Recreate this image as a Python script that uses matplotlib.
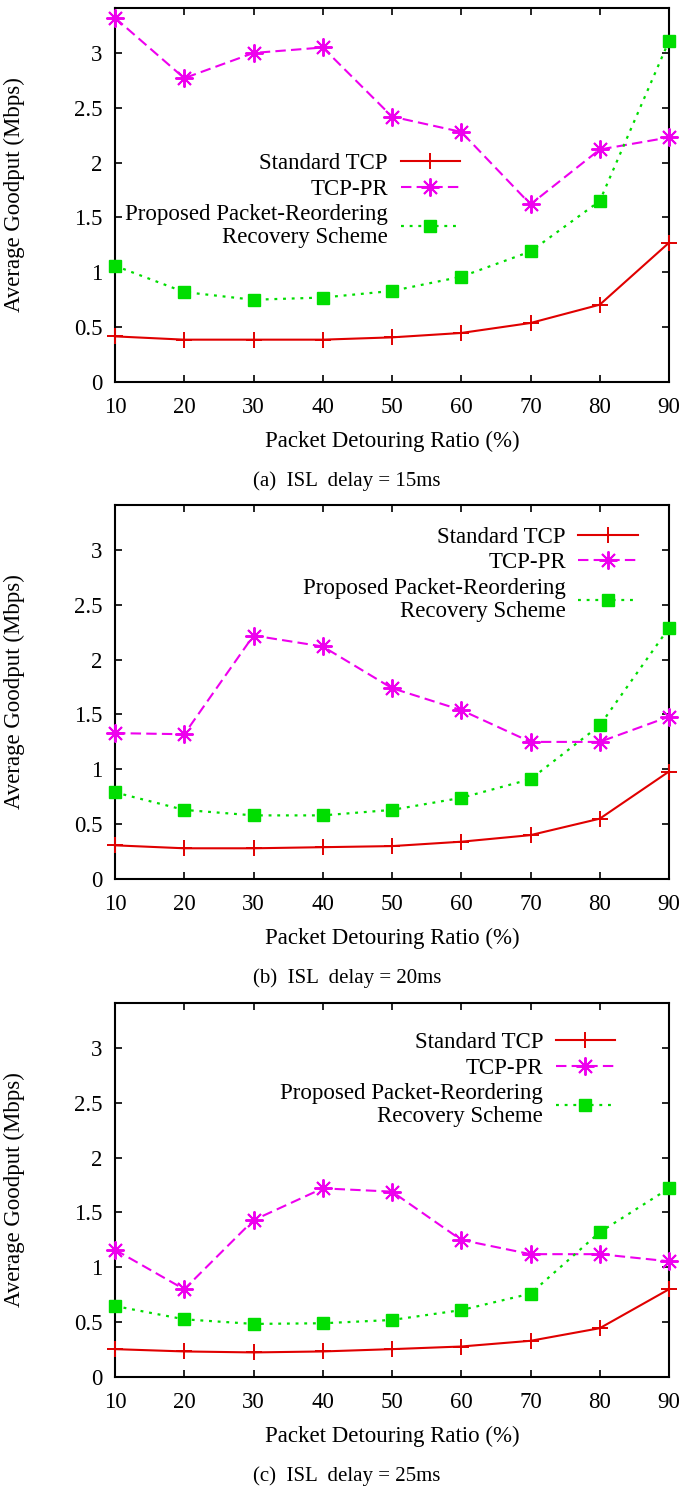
import matplotlib
matplotlib.use("Agg")
import matplotlib.pyplot as plt

plt.rcParams['font.family'] = ['Liberation Serif', 'DejaVu Serif']
plt.rcParams['mathtext.fontset'] = 'stix'

ratios = [10, 20, 30, 40, 50, 60, 70, 80, 90]

std_15 = [0.416, 0.386, 0.386, 0.386, 0.407, 0.447, 0.538, 0.705, 1.27]
pr_15 = [3.32, 2.77, 3.00, 3.05, 2.42, 2.28, 1.62, 2.12, 2.23]
prop_15 = [1.06, 0.82, 0.75, 0.77, 0.83, 0.96, 1.19, 1.65, 3.11]

std_20 = [0.307, 0.28, 0.28, 0.29, 0.30, 0.34, 0.40, 0.55, 0.98]
pr_20 = [1.33, 1.32, 2.22, 2.12, 1.74, 1.54, 1.25, 1.25, 1.48]
prop_20 = [0.79, 0.63, 0.58, 0.58, 0.63, 0.74, 0.91, 1.40, 2.29]

std_25 = [0.254, 0.233, 0.224, 0.233, 0.254, 0.278, 0.33, 0.445, 0.80]
pr_25 = [1.16, 0.80, 1.43, 1.72, 1.69, 1.25, 1.12, 1.12, 1.055]
prop_25 = [0.647, 0.526, 0.484, 0.49, 0.52, 0.61, 0.76, 1.32, 1.72]

labels = ["Standard TCP", "TCP-PR", "Proposed Packet-Reordering\nRecovery Scheme"]
captions = ["(a)  ISL  delay = 15ms", "(b)  ISL  delay = 20ms", "(c)  ISL  delay = 25ms"]
yticks = [0, 0.5, 1, 1.5, 2, 2.5, 3]
ytick_labels = ["0", "0.5", "1", "1.5", "2", "2.5", "3"]

panels = [(std_15, pr_15, prop_15), (std_20, pr_20, prop_20), (std_25, pr_25, prop_25)]

W, H = 691, 1487
fig = plt.figure(figsize=(W / 100, H / 100), dpi=100)

ax_boxes = [(8, 382), (505, 879), (1003, 1377)]
left_px, right_px = 115, 669
legend_anchor = [(0.623, 0.612), (0.944, 0.942), (0.903, 0.922)]
caption_y = [481, 978, 1476]

RED = '#e00000'
MAG = '#ee00ee'
GRN = '#00dd00'
FS = 16.5

asterisk = (8, 2, 0)

for i, (top, bot) in enumerate(ax_boxes):
    ax = fig.add_axes([left_px / W, 1 - bot / H, (right_px - left_px) / W, (bot - top) / H])
    std, pr, prop = panels[i]
    ax.plot(ratios, std, color=RED, lw=1.5, marker='+', ms=11, mew=1.4,
            label=labels[0], clip_on=False, zorder=3)
    ax.plot(ratios, pr, color=MAG, lw=1.5, dashes=(5, 2.5), marker=asterisk, ms=13, mew=1.4,
            label=labels[1], clip_on=False, zorder=3)
    ax.plot(ratios, prop, color=GRN, lw=1.6, dashes=(1.3, 2.6), marker='s', ms=9,
            mec=GRN, mfc=GRN, label=labels[2], clip_on=False, zorder=3)

    ax.set_xlim(10, 90)
    ax.set_ylim(0, 3.41)
    ax.set_xticks(ratios)
    ax.set_xticklabels([str(r) for r in ratios])
    ax.set_yticks(yticks)
    ax.set_yticklabels(ytick_labels)
    ax.tick_params(direction='in', length=5, width=1.2, top=True, right=True,
                   labelsize=FS, pad=9)
    ax.tick_params(axis='x', pad=11)
    for s in ax.spines.values():
        s.set_linewidth(1.5)
    ax.set_xlabel("Packet Detouring Ratio (%)", fontsize=FS)
    ax.xaxis.set_label_coords(0.5, -0.13)
    ax.set_ylabel("Average Goodput (Mbps)", fontsize=FS)
    ax.yaxis.set_label_coords(-0.162, 0.5)

    leg = ax.legend(loc='upper right', bbox_to_anchor=legend_anchor[i], frameon=False,
                    markerfirst=False, fontsize=FS, handlelength=2.6, handletextpad=0.55,
                    borderpad=0, borderaxespad=0, labelspacing=0.2)
    for t in leg.get_texts():
        t.set_multialignment('right')
        t.set_linespacing(1.12)

    fig.text(347 / W, 1 - caption_y[i] / H, captions[i], ha='center', va='center', fontsize=15)

fig.savefig("out.png", dpi=100)
